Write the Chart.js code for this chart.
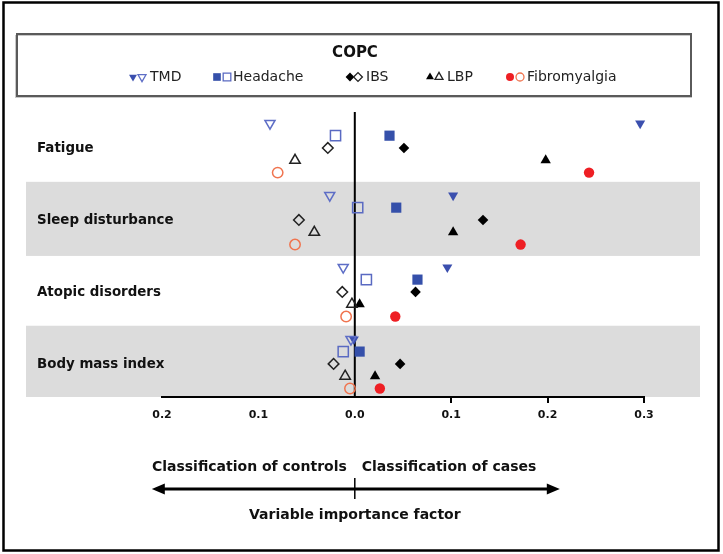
<!DOCTYPE html>
<html><head><meta charset="utf-8">
<script src="https://cdn.jsdelivr.net/npm/chart.js@4.4.1/dist/chart.umd.min.js"></script>
<style>html,body{margin:0;padding:0;background:#fff;}canvas{display:block;}</style>
</head><body>
<canvas id="c" width="723" height="554"></canvas>
<script>
// ---- data ----
const categories = ['Fatigue', 'Sleep disturbance', 'Atopic disorders', 'Body mass index'];
const diseases = ['TMD', 'Headache', 'IBS', 'LBP', 'Fibromyalgia'];
const xTickValues = [-0.2, -0.1, 0.0, 0.1, 0.2, 0.3];
// variable importance per category (open markers = controls, filled = cases)
const tmdControls = [-0.088, -0.026, -0.012, -0.004];
const tmdCases = [0.296, 0.102, 0.096, -0.001];
const headacheControls = [-0.020, 0.003, 0.012, -0.012];
const headacheCases = [0.036, 0.043, 0.065, 0.005];
const ibsControls = [-0.028, -0.058, -0.013, -0.022];
const ibsCases = [0.051, 0.133, 0.063, 0.047];
const lbpControls = [-0.062, -0.042, -0.003, -0.010];
const lbpCases = [0.198, 0.102, 0.005, 0.021];
const fibroControls = [-0.080, -0.062, -0.009, -0.005];
const fibroCases = [0.243, 0.172, 0.042, 0.026];
const legendTitle = 'COPC';
const leftNote = 'Classification of controls';
const rightNote = 'Classification of cases';
const axisTitle = 'Variable importance factor';

// ---- styles ----
const controlsByDisease = [tmdControls, headacheControls, ibsControls, lbpControls, fibroControls];
const casesByDisease = [tmdCases, headacheCases, ibsCases, lbpCases, fibroCases];
const styles = [
  {shape: 'triangle', rot: 180, r: 5.8, lr: 4.6, fill: '#3b4fae', open: '#5e6ec6'},
  {shape: 'rect', rot: 0, r: 7.2, lr: 5.4, fill: '#3550aa', open: '#5a6ac2'},
  {shape: 'rectRot', rot: 0, r: 5.3, lr: 4.4, fill: '#000000', open: '#222222'},
  {shape: 'triangle', rot: 0, r: 6, lr: 4.6, fill: '#000000', open: '#222222'},
  {shape: 'circle', rot: 0, r: 5.2, lr: 4, fill: '#ee1f24', open: '#f0744f'}
];
const ROW = 0.171;
const FONT = '"DejaVu Sans", sans-serif';

const datasets = [];
diseases.forEach((name, d) => {
  const s = styles[d];
  const off = (d - 2) * ROW;
  datasets.push({
    label: name + ' controls',
    data: controlsByDisease[d].map((v, c) => ({x: v, y: c + off})),
    pointStyle: s.shape, rotation: s.rot, pointRadius: s.r,
    backgroundColor: 'rgba(0,0,0,0)', borderColor: s.open, borderWidth: 1.5,
    clip: false
  });
  datasets.push({
    label: name + ' cases',
    data: casesByDisease[d].map((v, c) => ({x: v, y: c + off})),
    pointStyle: s.shape, rotation: s.rot, pointRadius: s.r,
    backgroundColor: s.fill, borderColor: s.fill, borderWidth: 0,
    clip: false
  });
});

const deco = {
  id: 'deco',
  beforeDraw(chart) {
    const {ctx, scales: {y}, chartArea} = chart;
    ctx.save();
    ctx.fillStyle = '#dcdcdc';
    categories.forEach((c, i) => {
      if (i % 2 === 1) {
        const t = y.getPixelForValue(i - 0.53);
        const b = Math.min(y.getPixelForValue(i + 0.5), chartArea.bottom);
        ctx.fillRect(26, t, 674, b - t);
      }
    });
    ctx.restore();
  },
  beforeDatasetsDraw(chart) {
    const {ctx, scales: {x, y}, chartArea} = chart;
    ctx.save();
    const zx = x.getPixelForValue(0);
    ctx.strokeStyle = '#000'; ctx.lineWidth = 2;
    ctx.beginPath(); ctx.moveTo(zx, chartArea.top); ctx.lineTo(zx, chartArea.bottom); ctx.stroke();
    ctx.fillStyle = '#111';
    ctx.font = 'bold 13.4px ' + FONT;
    ctx.textBaseline = 'middle'; ctx.textAlign = 'left';
    categories.forEach((c, i) => ctx.fillText(c, 37, y.getPixelForValue(i) + 1));
    ctx.restore();
  },
  afterDraw(chart) {
    const {ctx, scales: {x}} = chart;
    const zx = x.getPixelForValue(0);
    ctx.save();
    // legend box
    ctx.strokeStyle = '#c8c8c8'; ctx.lineWidth = 1;
    ctx.strokeRect(15.5, 35.5, 676, 62);
    ctx.strokeStyle = '#5a5a5a'; ctx.lineWidth = 2;
    ctx.strokeRect(17, 34, 674, 62);
    ctx.fillStyle = '#111';
    ctx.font = 'bold 15px ' + FONT;
    ctx.textAlign = 'center'; ctx.textBaseline = 'middle';
    ctx.fillText(legendTitle, 355, 53);
    const itemPos = [[133, 142, 150], [217, 227, 233], [350, 358, 366], [430, 439, 447], [510, 520, 527]];
    ctx.font = '14px ' + FONT; ctx.textAlign = 'left';
    diseases.forEach((name, d) => {
      const s = styles[d];
      const p = itemPos[d];
      const ly = 77;
      ctx.fillStyle = s.fill; ctx.strokeStyle = s.fill; ctx.lineWidth = 0;
      Chart.helpers.drawPoint(ctx, {pointStyle: s.shape, rotation: s.rot, radius: s.lr, borderWidth: 0}, p[0], ly);
      ctx.fillStyle = 'rgba(0,0,0,0)'; ctx.strokeStyle = s.open; ctx.lineWidth = 1.3;
      Chart.helpers.drawPoint(ctx, {pointStyle: s.shape, rotation: s.rot, radius: s.lr, borderWidth: 1.3}, p[1], ly);
      ctx.fillStyle = '#222';
      ctx.fillText(name, p[2], ly);
    });
    // bottom annotation
    ctx.fillStyle = '#111';
    ctx.font = 'bold 14px ' + FONT;
    ctx.textBaseline = 'middle';
    ctx.textAlign = 'right'; ctx.fillText(leftNote, zx - 8, 467);
    ctx.textAlign = 'left'; ctx.fillText(rightNote, zx + 7, 467);
    ctx.textAlign = 'center'; ctx.fillText(axisTitle, zx, 515);
    const ay = 489, la = zx - 203, ra = zx + 205;
    ctx.strokeStyle = '#000'; ctx.lineWidth = 3;
    ctx.beginPath(); ctx.moveTo(la + 8, ay); ctx.lineTo(ra - 8, ay); ctx.stroke();
    ctx.fillStyle = '#000';
    ctx.beginPath(); ctx.moveTo(la, ay); ctx.lineTo(la + 13, ay - 5.5); ctx.lineTo(la + 13, ay + 5.5); ctx.closePath(); ctx.fill();
    ctx.beginPath(); ctx.moveTo(ra, ay); ctx.lineTo(ra - 13, ay - 5.5); ctx.lineTo(ra - 13, ay + 5.5); ctx.closePath(); ctx.fill();
    ctx.lineWidth = 1.5;
    ctx.beginPath(); ctx.moveTo(zx, 478); ctx.lineTo(zx, 499); ctx.stroke();
    // outer frame
    ctx.strokeStyle = '#000'; ctx.lineWidth = 2.5;
    ctx.strokeRect(3.5, 2.5, 715, 548);
    ctx.restore();
  }
};

new Chart(document.getElementById('c'), {
  type: 'scatter',
  data: {datasets},
  options: {
    responsive: false, animation: false, devicePixelRatio: 1,
    layout: {padding: {left: 162, right: 79, top: 112, bottom: 127}},
    plugins: {legend: {display: false}, tooltip: {enabled: false}},
    scales: {
      x: {
        type: 'linear', min: -0.2, max: 0.3,
        afterBuildTicks: (sc) => { sc.ticks = xTickValues.map(v => ({value: v})); },
        afterFit: (sc) => { sc.height = 30; },
        border: {display: true, color: '#000', width: 2},
        grid: {drawOnChartArea: false, drawTicks: true, tickLength: 6, lineWidth: 2,
               color: (c) => (c.tick && c.tick.value > 0.001) ? '#000' : 'rgba(0,0,0,0)'},
        ticks: {padding: 6, color: '#111', font: {family: FONT, size: 11, weight: 'bold'},
                maxRotation: 0, autoSkip: false,
                callback: (v) => Math.abs(v).toFixed(1)}
      },
      y: {type: 'linear', reverse: true, min: -0.5, max: 3.46, display: false}
    }
  },
  plugins: [deco]
});
</script>
</body></html>
